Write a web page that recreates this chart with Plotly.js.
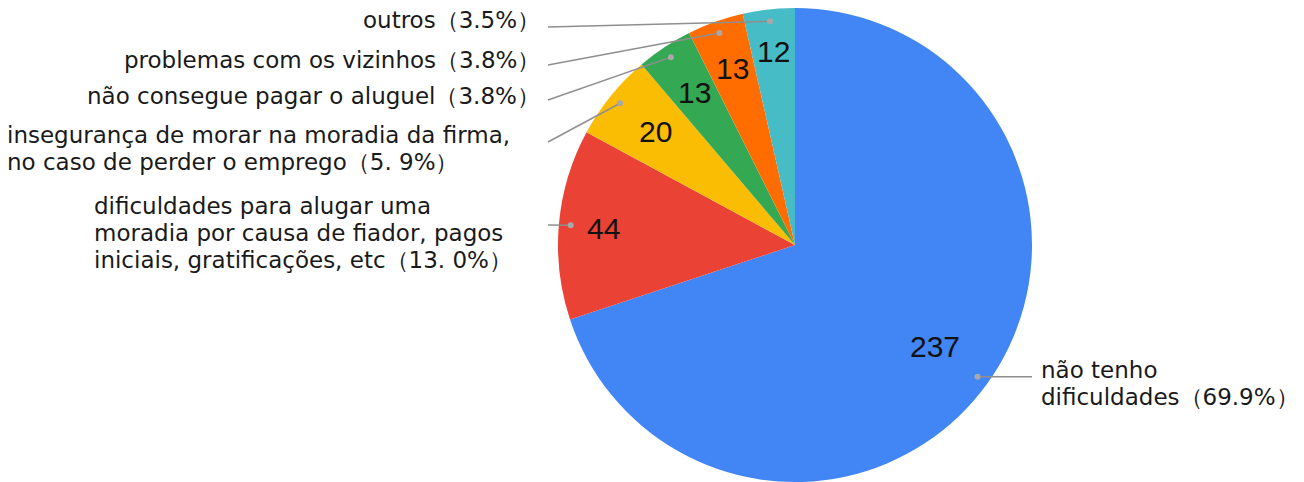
<!DOCTYPE html>
<html><head><meta charset="utf-8">
<script src="https://cdn.plot.ly/plotly-3.0.1.min.js"></script>
<style>html,body{margin:0;padding:0;background:#fff;}#chart{width:1304px;height:482px;}</style>
</head><body><div id="chart"></div>
<script>
const categories = [
  "não tenho<br>dificuldades（69.9%）",
  "dificuldades para alugar uma<br>moradia por causa de fiador, pagos<br>iniciais, gratificações, etc（13. 0%）",
  "insegurança de morar na moradia da firma,<br>no caso de perder o emprego（5. 9%）",
  "não consegue pagar o aluguel（3.8%）",
  "problemas com os vizinhos（3.8%）",
  "outros（3.5%）"
];
const values = [237, 44, 20, 13, 13, 12];
const colors = ["#4285F4", "#EA4335", "#FBBC04", "#34A853", "#FF6D01", "#46BDC6"];

const W = 1304, H = 482;
const cx = 795, cy = 245, R = 237;
const px2x = p => p / W, px2y = p => 1 - p / H;
const LINE_H = 27;

// label placement (layout choices): anchor x, first-line y, anchor side
const labelPos = [
  {tx: 1040, ty: 370, xa: 'left', lx: 1032, ly: null},
  {tx: 93, ty: 206, xa: 'left', lx: 548, ly: 225},
  {tx: 6, ty: 135, xa: 'left', lx: 548, ly: 142},
  {tx: 541, ty: 96, xa: 'right', lx: 548, ly: 100},
  {tx: 541, ty: 60, xa: 'right', lx: 548, ly: 65},
  {tx: 541, ty: 20, xa: 'right', lx: 548, ly: 27}
];
const valueRadius = [0.73, 0.81, 0.76, 0.77, 0.79, 0.82];

const total = values.reduce((a, b) => a + b, 0);
let cum = 0;
const annotations = [], shapes = [];
values.forEach((v, i) => {
  const mid = (cum + v / 2) / total * 2 * Math.PI;
  cum += v;
  const s = Math.sin(mid), c = Math.cos(mid);
  const rf = valueRadius[i];
  annotations.push({
    x: px2x(cx + rf * R * s), y: px2y(cy - rf * R * c), xref: 'paper', yref: 'paper',
    text: String(v), showarrow: false, xanchor: 'center', yanchor: 'middle',
    font: {family: 'Liberation Sans, Arial, sans-serif', size: 30, color: '#111'}
  });
  const dx = cx + 0.95 * R * s, dy = cy - 0.95 * R * c;
  const lp = labelPos[i];
  const ly = lp.ly === null ? dy : lp.ly;
  shapes.push({type: 'line', xref: 'paper', yref: 'paper',
    x0: px2x(dx), y0: px2y(dy), x1: px2x(lp.lx), y1: px2y(ly),
    line: {color: '#8f8f8f', width: 1.5}});
  shapes.push({type: 'circle', xref: 'paper', yref: 'paper',
    x0: px2x(dx - 3), x1: px2x(dx + 3), y0: px2y(dy - 3), y1: px2y(dy + 3),
    fillcolor: '#a8a8a8', line: {width: 0}});
  categories[i].split('<br>').forEach((line, k) => {
    annotations.push({
      x: px2x(lp.tx), y: px2y(lp.ty + k * LINE_H), xref: 'paper', yref: 'paper',
      text: line, showarrow: false, xanchor: lp.xa, yanchor: 'middle', borderpad: 0,
      font: {family: 'DejaVu Sans, Noto Sans, sans-serif', size: 23, color: '#1a1a1a'}
    });
  });
});

const data = [{
  type: 'pie', values: values, labels: categories, sort: false,
  direction: 'clockwise', rotation: 0, textinfo: 'none', hoverinfo: 'none',
  marker: {colors: colors, line: {width: 0}},
  domain: {x: [(cx - R) / W, (cx + R) / W], y: [0, 1 - (cy - R) / H]},
  showlegend: false
}];
const layout = {
  width: W, height: H, margin: {l: 0, r: 0, t: 0, b: 0},
  paper_bgcolor: '#fff', plot_bgcolor: '#fff', showlegend: false,
  annotations: annotations, shapes: shapes
};
Plotly.newPlot('chart', data, layout, {displayModeBar: false, staticPlot: true});
</script></body></html>
